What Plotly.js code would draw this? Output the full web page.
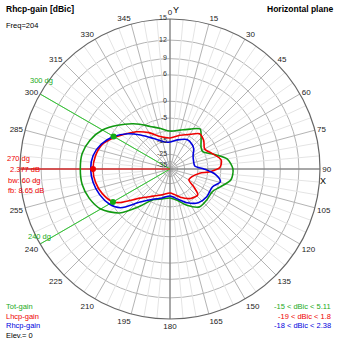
<!DOCTYPE html>
<html><head><meta charset="utf-8">
<script src="https://cdn.plot.ly/plotly-3.0.1.min.js"></script>
<style>html,body{margin:0;padding:0;background:#fff}#c{width:339px;height:339px}</style>
</head><body><div id="c"></div>
<script>
// ---- data (dBic) ----
const ringDb     = [15, 12, 9, 6, 0, -5, -10, -15, -25, -35];
const ringLabels = ['15','12','9','6','0','-5','','-15','-25','-35'];
const angleTicks = [0,15,30,45,60,75,90,105,120,135,150,165,180,195,210,225,240,255,270,285,300,315,330,345];

const totTheta = [0,14,27,37,45,55,62,72,80,90,100,110,118,130,142,155,167,180,195,209,219,229,240,250,260,270,280,290,300,310,320,326,335,346,360];
const totDb    = [-10.0,-9.1,-7.2,-5.3,-7.5,-10.0,-10.4,-6.4,-2.75,-1.3,-1.6,-4.3,-6.0,-6.0,-6.0,-9.1,-12.8,-14.4,-13.3,-11.3,-6.0,-0.2,3.0,4.3,5.0,5.11,5.0,4.1,2.55,0.07,-2.45,-4.0,-6.4,-8.3,-10.0];

const lhcpTheta = [0,16,30,40,50,60,70,80,88,94,98,110,120,127,133,145,160,170,180,197,212,226,236,240,250,260,270,280,290,298,304,318,330,343,360];
const lhcpDb    = [-13.3,-11.3,-9.1,-6.75,-7.5,-9.1,-7.1,-4.65,-5.3,-9.1,-13.85,-18.1,-19.0,-13.85,-10.0,-10.9,-13.85,-16.2,-17.45,-15.6,-12.8,-8.3,-2.15,-0.5,1.1,2.0,2.3,2.0,1.1,-0.7,-2.15,-5.3,-8.3,-11.8,-13.3];

const rhcpTheta = [0,14,30,42,50,59,70,83,90,97,104,113,127,140,153,166,180,195,209,222,232,240,250,260,270,280,290,300,310,319,331,349,360];
const rhcpDb    = [-15.6,-13.85,-11.8,-12.3,-13.3,-15.6,-16.8,-16.8,-11.8,-6.75,-4.65,-6.75,-6.75,-7.5,-10.0,-13.3,-15.6,-13.85,-11.5,-7.3,-1.3,0.6,1.8,2.55,2.85,2.55,1.35,-0.7,-3.7,-7.1,-11.3,-15.3,-15.6];

const maxTheta = 270, maxDb = 2.3;          // main lobe marker
const bwTheta  = [300, 240], bwDb = [-0.7, -0.5];

// ---- scale: compressed log-like polar scale, 15 dB at the rim ----
const TOP = 15;
function sc(db){ const x = TOP - db; return Math.exp(-(0.05*x + 0.0002*x*x)); }

const traces = [];
{
  const th = [], rr = [];
  for (let a = 0; a < 360; a += 5) {
    if (a % 15 === 0) continue;
    th.push(a, a, null); rr.push(sc(-15), 1, null);
  }
  traces.push({type:'scatterpolar', mode:'lines', theta:th, r:rr, line:{color:'#e4e4e4', width:1}, hoverinfo:'skip', connectgaps:false});
}
traces.push({type:'scatterpolar', mode:'lines', theta:[0,0,null,180,180,null,90,90,null,270,270], r:[0,1,null,0,1,null,0,1,null,0,1],
  line:{color:'#777', width:1}, hoverinfo:'skip', connectgaps:false});
traces.push({type:'scatterpolar', mode:'lines', theta:[bwTheta[0],bwTheta[0],null,bwTheta[1],bwTheta[1]], r:[0,1,null,0,1],
  line:{color:'#3c3', width:1}, hoverinfo:'skip', connectgaps:false});
traces.push({type:'scatterpolar', mode:'lines', theta:[maxTheta,maxTheta], r:[0,1.13], cliponaxis:false,
  line:{color:'#f00', width:1}, hoverinfo:'skip'});

const curve = (th, db, col) => ({type:'scatterpolar', mode:'lines', theta:th, r:db.map(sc),
  line:{color:col, width:1.6, shape:'spline', smoothing:0.8}, hoverinfo:'skip'});
traces.push(curve(totTheta, totDb, '#119911'));
traces.push(curve(lhcpTheta, lhcpDb, '#ee0000'));
traces.push(curve(rhcpTheta, rhcpDb, '#0000dd'));
traces.push({type:'scatterpolar', mode:'markers', theta:bwTheta, r:bwDb.map(sc), marker:{color:'#11aa11', size:6}, hoverinfo:'skip'});
traces.push({type:'scatterpolar', mode:'markers', theta:[maxTheta], r:[sc(maxDb)], marker:{color:'#ee0000', size:6}, hoverinfo:'skip'});

const W = 339, CX = 170, CY = 169, RAD = 150;
const F = 'Liberation Sans, Arial, sans-serif';
function txt(s, px, py, col, anchor, size, bold){
  return {text: bold ? '<b>'+s+'</b>' : s, xref:'paper', yref:'paper', x:px/W, y:1-py/W,
    xanchor:anchor||'left', yanchor:'middle', showarrow:false, font:{family:F, size:size||8, color:col||'#000'}};
}
const ann = [
  txt('Rhcp-gain [dBic]', 4, 9, '#000', 'left', 8.5, true),
  txt('Freq=204', 4, 25, '#000', 'left', 7.5),
  txt('Horizontal plane', 335, 9, '#000', 'right', 8.5, true),
  txt('Y', 176, 10, '#000', 'center', 9),
  txt('X', 323, 181, '#000', 'center', 9),
  txt('300 dg', 28, 80, '#2a2', 'left', 7.5),
  txt('240 dg', 26, 236, '#2a2', 'left', 7.5),
  txt('270 dg', 5, 158, '#e00', 'left', 7.5),
  txt('2.377 dB', 8, 169, '#e00', 'left', 7.5),
  txt('bw: 60 dg', 6, 180, '#e00', 'left', 7.5),
  txt('fb: 8.65 dB', 6, 191, '#e00', 'left', 7.5),
  txt('Tot-gain', 4, 306, '#2a2', 'left', 7.5),
  txt('Lhcp-gain', 4, 316, '#e00', 'left', 7.5),
  txt('Rhcp-gain', 4, 325, '#00d', 'left', 7.5),
  txt('Elev.= 0', 4, 335, '#000', 'left', 7.5),
  txt('-15 < dBic < 5.11', 333, 306, '#2a2', 'right', 7.5),
  txt('-19 < dBic < 1.8', 333, 316, '#e00', 'right', 7.5),
  txt('-18 < dBic < 2.38', 333, 325, '#00d', 'right', 7.5)
];
ringDb.forEach((d, i) => {
  if (!ringLabels[i]) return;
  const off = d <= -35 ? 3 : (d <= -25 ? -1 : -1);
  ann.push(txt(ringLabels[i], CX - 1, CY - RAD*sc(d) + off, '#333', 'right', 7));
});

const layout = {
  width: 339, height: 339, margin:{l:0,r:0,t:0,b:0}, showlegend:false,
  paper_bgcolor:'#fff', font:{family:F, size:8, color:'#222'},
  polar:{
    domain:{x:[(CX-RAD)/W, (CX+RAD)/W], y:[1-(CY+RAD)/W, 1-(CY-RAD)/W]},
    bgcolor:'#fff',
    angularaxis:{rotation:90, direction:'clockwise', tickmode:'array', tickvals:angleTicks,
      ticktext:angleTicks.map(a => a === 270 ? '' : String(a)), showline:true, linecolor:'#666', linewidth:1.2,
      gridcolor:'#b4b4b4', gridwidth:1, ticks:'', tickfont:{size:8, color:'#222'}},
    radialaxis:{range:[0,1], tickmode:'array', tickvals:ringDb.map(sc), showticklabels:false,
      angle:90, showline:false, ticks:'', gridcolor:'#b4b4b4', gridwidth:1}
  },
  annotations: ann
};
Plotly.newPlot('c', traces, layout, {staticPlot:true, displayModeBar:false});
</script></body></html>
